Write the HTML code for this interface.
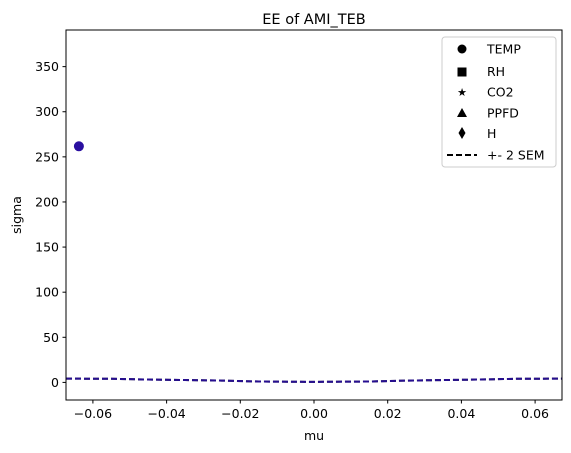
<!DOCTYPE html>
<html><head><meta charset="utf-8"><style>
body{margin:0;background:#fff;}
svg{display:block;font-family:"DejaVu Sans","Liberation Sans",sans-serif;}
</style></head><body>
<svg id="chart" width="571" height="453" viewBox="0 0 571 453">
<rect width="571" height="453" fill="#fff"/>
<text x="314" y="24" font-size="14.5" text-anchor="middle">EE of AMI_TEB</text>
<g id="plot"></g>
<rect x="66" y="30" width="496" height="370" fill="none" stroke="#000" stroke-width="1"/>
<g id="xticks"></g>
<g id="yticks"></g>
<text x="314" y="440" font-size="12.5" text-anchor="middle">mu</text>
<text x="21" y="215" font-size="12.5" text-anchor="middle" transform="rotate(-90 21 215)">sigma</text>
<g>
<rect x="442" y="37" width="114" height="130" rx="3" fill="#fff" stroke="#ccc"/>
<circle cx="462" cy="49" r="4.5" fill="#000"/>
<text x="487" y="53.5" font-size="12.5">TEMP</text>
<rect x="457.5" y="67.5" width="9" height="9" fill="#000"/>
<text x="487" y="76" font-size="12.5">RH</text>
<text x="462" y="96" font-size="11" text-anchor="middle">★</text>
<text x="487" y="96.5" font-size="12.5">CO2</text>
<polygon points="462,108 467,117 457,117" fill="#000"/>
<text x="487" y="117.5" font-size="12.5">PPFD</text>
<polygon points="462,127 465.5,133 462,139 458.5,133" fill="#000"/>
<text x="487" y="138" font-size="12.5">H</text>
<line x1="447" y1="155" x2="477" y2="155" stroke="#000" stroke-width="2" stroke-dasharray="6,3"/>
<text x="487" y="159.5" font-size="12.5">+- 2 SEM</text>
</g>
</svg>
<script>
const xTicks=[-0.06,-0.04,-0.02,0.00,0.02,0.04,0.06];
const xTickLabels=["\u22120.06","\u22120.04","\u22120.02","0.00","0.02","0.04","0.06"];
const yTicks=[0,50,100,150,200,250,300,350];
const pointMu=[-0.0638];
const pointSigma=[261.7];
const semMu=[-0.0673,-0.055,-0.045,-0.035,-0.025,-0.015,0,0.015,0.025,0.035,0.045,0.055,0.0673];
const semSigma=[4.2,4.0,3.2,2.6,2.0,1.0,0.6,1.0,2.0,2.6,3.2,4.0,4.2];
const X0=66,X1=562,Y0=400,Y1=30,xmin=-0.0673,xmax=0.0673,ymin=-19.5,ymax=390.6;
const sx=v=>X0+(v-xmin)/(xmax-xmin)*(X1-X0);
const sy=v=>Y0-(v-ymin)/(ymax-ymin)*(Y0-Y1);
const NS="http://www.w3.org/2000/svg";
function mk(tag,attrs,parent){const e=document.createElementNS(NS,tag);for(const k in attrs)e.setAttribute(k,attrs[k]);parent.appendChild(e);return e;}
const plot=document.getElementById('plot'),xg=document.getElementById('xticks'),yg=document.getElementById('yticks');
xTicks.forEach((t,i)=>{const x=sx(t);
const l=mk('line',{x1:x,y1:400,x2:x,y2:403.5,stroke:'#000'},xg);


const tx=mk('text',{x:x,y:418,'font-size':12.5,'text-anchor':'middle'},xg);tx.textContent=xTickLabels[i];

});
yTicks.forEach(t=>{const y=sy(t);
const l=mk('line',{x1:62.5,y1:y,x2:66,y2:y,stroke:'#000'},yg);


const tx=mk('text',{x:59,y:y+4.5,'font-size':12.5,'text-anchor':'end'},yg);tx.textContent=t;

});
const pts=semMu.map((m,i)=>sx(m)+','+sy(semSigma[i])).join(' ');
const l1=mk('polyline',{points:pts,fill:'none',stroke:'#000','stroke-width':2,'stroke-dasharray':'6,3'},plot);


const l2=mk('polyline',{points:pts,fill:'none',stroke:'#2a0fa0','stroke-width':2,'stroke-dasharray':'6,3',opacity:0.9},plot);


pointMu.forEach((m,i)=>{const c=mk('circle',{cx:sx(m),cy:sy(pointSigma[i]),r:5,fill:'#2a0fa0'},plot);

});
</script>
</body></html>
